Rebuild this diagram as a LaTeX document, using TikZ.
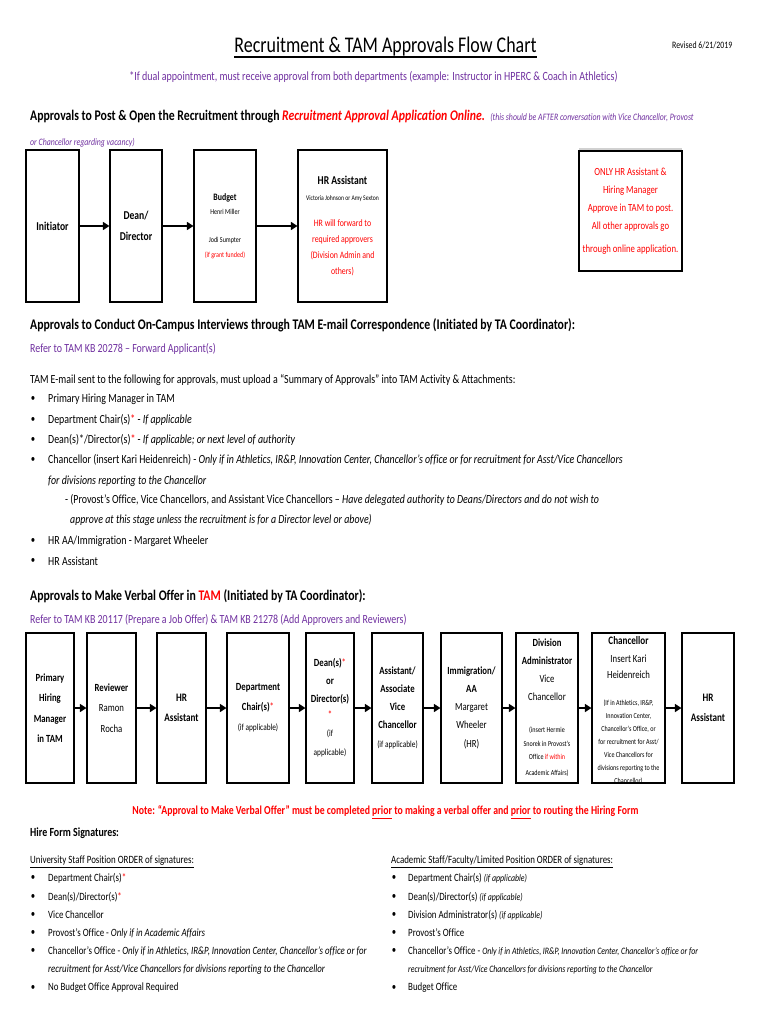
\documentclass[tikz,border=0pt]{standalone}
\usepackage{fontspec}
\setmainfont{Carlito}[FakeStretch=0.8, Ligatures=NoCommon]
\usepackage{xcolor}
\usetikzlibrary{arrows.meta, positioning}
\definecolor{ucpurple}{HTML}{7030A0}
\definecolor{ucred}{HTML}{FF0000}
\newcommand{\fs}[2]{\fontsize{#1}{#2}\selectfont}
\newcommand{\rstar}{{\color{ucred}*}}

\begin{document}
\begin{tikzpicture}[x=1pt, y=-1pt,
  txt/.style={anchor=west, inner sep=0pt},
  body/.style={txt, font=\fs{12.4}{14}},
  small/.style={txt, font=\fs{11.1}{13}},
  dot/.style={anchor=center, inner sep=0pt, font=\fs{11}{12}},
  hdr/.style={txt, font=\fs{14.7}{17}\bfseries},
  flowbox/.style={draw, line width=1.1pt, inner sep=0pt, align=center, minimum height=150pt},
  topbox/.style={flowbox, minimum height=152pt},
  flow/.style={line width=1.3pt, -{Triangle[length=6.5pt, width=8pt]}},
]
  \useasboundingbox (0,0) rectangle (770,1024);
  \fill[white] (0,0) rectangle (770,1024);

  % Title
  \node[anchor=base, inner sep=0pt, font=\fs{22.4}{26}] (title) at (385.5,53) {Recruitment \& TAM Approvals Flow Chart};
  \draw[line width=1.5pt] ([yshift=-4pt]title.base west) -- ([yshift=-4pt]title.base east);
  \node[txt, font=\fs{9.8}{11}] (revised) at (672,45) {Revised 6/21/2019};
  \node[inner sep=0pt, font=\fs{12.5}{14}, text=ucpurple] (dual) at (373.5,77) {*If dual appointment, must receive approval from both departments (example: Instructor in HPERC \& Coach in Athletics)};

  % Approvals to post
  \node[hdr] (posthdr) at (30,117) {Approvals to Post \& Open the Recruitment through {\color{ucred}\itshape Recruitment Approval Application Online.}\ \ {\fs{9.8}{11}\mdseries\itshape\color{ucpurple}(this should be AFTER conversation with Vice Chancellor, Provost}};
  \node[txt, font=\fs{9.8}{11}\itshape, text=ucpurple] (posthdrb) at (30,143) {or Chancellor regarding vacancy)};

  \node[topbox, minimum width=53pt, font=\fs{12}{21}\bfseries] (init) at (52.5,226) {Initiator};
  \node[topbox, minimum width=52pt, font=\fs{12}{21}\bfseries] (dean) at (136,226) {Dean/\\Director};
  \node[topbox, minimum width=62pt, font=\fs{7.6}{14.5}] (budget) at (225,226) {{\fs{9.8}{14}\bfseries Budget}\\Henri Miller\\[13.5pt]Jodi Sumpter\\{\color{ucred}(if grant funded)}};
  \node[topbox, minimum width=89pt, font=\fs{9.8}{16}] (hra) at (342.5,226) {{\fs{12}{16}\bfseries HR Assistant}\\{\fs{7.1}{8}Victoria Johnson or Amy Sexton}\\[10pt]{\color{ucred}HR will forward to}\\{\color{ucred}required approvers}\\{\color{ucred}(Division Admin and}\\{\color{ucred}others)}};
  \fill[black!18] ([yshift=2.5pt]579,151) rectangle (682,151);
  \node[draw, line width=1.1pt, inner sep=0pt, minimum width=103pt, minimum height=120pt, align=center, text=ucred, font=\fs{10.9}{18}] (only) at (630.5,211) {ONLY HR Assistant \&\\Hiring Manager\\Approve in TAM to post.\\All other approvals go\\[5pt]through online application.};

  \draw[flow] (init) -- (dean);
  \draw[flow] (dean) -- (budget);
  \draw[flow] (budget) -- (hra);

  % Approvals to interview
  \node[hdr] (ivhdr) at (30,325) {Approvals to Conduct On-Campus Interviews through TAM E-mail Correspondence (Initiated by TA Coordinator):};
  \node[body, text=ucpurple] (ivref) at (30,349) {Refer to TAM KB 20278 – Forward Applicant(s)};
  \node[body] (ivintro) at (30,380) {TAM E-mail sent to the following for approvals, must upload a “Summary of Approvals” into TAM Activity \& Attachments:};
  \foreach \y/\itm in {399/{Primary Hiring Manager in TAM},
      420/{Department Chair(s)\rstar{} - \textit{If applicable}},
      440/{Dean(s)*/Director(s)\rstar{} - \textit{If applicable; or next level of authority}},
      460/{Chancellor (insert Kari Heidenreich) - \textit{Only if in Athletics, IR\&P, Innovation Center, Chancellor’s office or for recruitment for Asst/Vice Chancellors}},
      541/{HR AA/Immigration - Margaret Wheeler},
      561/{HR Assistant}} {
    \node[dot] (ivdot\y) at (33,\y) {\textbullet};
    \node[body] (ivitem\y) at (48,\y) {\itm};
  }
  \node[body] (ivcont) at (48,481) {\textit{for divisions reporting to the Chancellor}};
  \node[body] (ivsub) at (65,500) {- (Provost’s Office, Vice Chancellors, and Assistant Vice Chancellors – \textit{Have delegated authority to Deans/Directors and do not wish to}};
  \node[body] (ivsubb) at (70,520) {\textit{approve at this stage unless the recruitment is for a Director level or above)}};

  % Approvals to make verbal offer
  \node[hdr] (vohdr) at (30,596) {Approvals to Make Verbal Offer in {\color{ucred}TAM} (Initiated by TA Coordinator):};
  \node[body, text=ucpurple] (voref) at (30,620) {Refer to TAM KB 20117 (Prepare a Job Offer) \& TAM KB 21278 (Add Approvers and Reviewers)};

  \node[flowbox, minimum width=48pt, font=\fs{10.9}{20.5}\bfseries] (prim) at (50,708) {Primary\\Hiring\\Manager\\in TAM};
  \node[flowbox, minimum width=49pt, font=\fs{10.9}{20.5}] (rev) at (111.5,708) {\textbf{Reviewer}\\Ramon\\Rocha};
  \node[flowbox, minimum width=49pt, font=\fs{11.4}{20}\bfseries] (hrb) at (181.5,708) {HR\\Assistant};
  \node[flowbox, minimum width=62pt, font=\fs{10.9}{20}] (dept) at (258,708) {\textbf{Department}\\\textbf{Chair(s)}\rstar\\{\fs{9.2}{10}(if applicable)}};
  \node[flowbox, minimum width=48pt, font=\fs{10.9}{18}] (deans) at (330,708) {\textbf{Dean(s)}\rstar\\\textbf{or}\\\textbf{Director(s)}\\[-2pt]\rstar\\{\fs{9.2}{10}(if}\\[1pt]{\fs{9.2}{10}applicable)}};
  \node[flowbox, minimum width=51pt, font=\fs{10.9}{18}\bfseries] (avc) at (397.5,708) {Assistant/\\Associate\\Vice\\Chancellor\\[1pt]{\fs{9.2}{10}\mdseries(if applicable)}};
  \node[flowbox, minimum width=61pt, font=\fs{10.9}{18}] (immig) at (471.5,708) {\textbf{Immigration/}\\\textbf{AA}\\Margaret\\Wheeler\\[1pt](HR)};
  \node[flowbox, minimum width=62pt, font=\fs{10.9}{18}] (divadm) at (547,708) {\textbf{Division}\\\textbf{Administrator}\\Vice\\Chancellor\\[14pt]{\fs{7.6}{8}(insert Hermie}\\[-4pt]{\fs{7.6}{8}Snorek in Provost’s}\\[-5pt]{\fs{7.6}{8}Office {\color{ucred}if within}}\\[-2pt]{\fs{7.6}{8}Academic Affairs)}};
  \node[flowbox, minimum width=73pt] (chanc) at (628.5,708) {};
  \node[inner sep=0pt, align=center, font=\fs{10.9}{16}] (chanctext) at ([yshift=-3pt]chanc.center) {{\fs{11.4}{12}\bfseries Chancellor}\\[2pt]Insert Kari\\Heidenreich\\[11pt]{\fs{7.6}{8}(If in Athletics, IR\&P,}\\[-3pt]{\fs{7.6}{8}Innovation Center,}\\[-3pt]{\fs{7.6}{8}Chancellor’s Office, or}\\[-3pt]{\fs{7.6}{8}for recruitment for Asst/}\\[-3pt]{\fs{7.6}{8}Vice Chancellors for}\\[-3pt]{\fs{7.6}{8}divisions reporting to the}\\[-3pt]{\fs{7.6}{8}Chancellor)}};
  \node[flowbox, minimum width=52pt, font=\fs{11.4}{20}\bfseries] (hrc) at (708,708) {HR\\Assistant};

  \foreach \a/\b in {prim/rev, rev/hrb, hrb/dept, dept/deans, deans/avc, avc/immig, immig/divadm, divadm/chanc, chanc/hrc}
    \draw[flow] (\a) -- (\b);

  \node[inner sep=0pt, font=\fs{12.2}{14}\bfseries, text=ucred] (note) at (385.5,812) {Note: “Approval to Make Verbal Offer” must be completed \underline{prior} to making a verbal offer and \underline{prior} to routing the Hiring Form};

  % Hire form signatures
  \node[txt, font=\fs{12.4}{14}\bfseries] (hire) at (30,833) {Hire Form Signatures:};
  \node[small] (ushdr) at (30,862) {\underline{University Staff Position ORDER of signatures:}};
  \node[small] (ashdr) at (391,862) {\underline{Academic Staff/Faculty/Limited Position ORDER of signatures:}};
  \foreach \y/\itm in {878/{Department Chair(s)\rstar},
      897/{Dean(s)/Director(s)\rstar},
      915/{Vice Chancellor},
      933/{Provost’s Office - \textit{Only if in Academic Affairs}},
      951/{Chancellor’s Office - \textit{Only if in Athletics, IR\&P, Innovation Center, Chancellor’s office or for}},
      988/{No Budget Office Approval Required}} {
    \node[dot] (usdot\y) at (33,\y) {\textbullet};
    \node[small] (usitem\y) at (48,\y) {\itm};
  }
  \node[small] (uscont) at (48,970) {\textit{recruitment for Asst/Vice Chancellors for divisions reporting to the Chancellor}};
  \foreach \y/\itm in {878/{Department Chair(s) {\fs{9.8}{11}\itshape(if applicable)}},
      897/{Dean(s)/Director(s) {\fs{9.8}{11}\itshape(if applicable)}},
      915/{Division Administrator(s) {\fs{9.8}{11}\itshape(if applicable)}},
      933/{Provost’s Office},
      951/{Chancellor’s Office - {\fs{9.8}{11}\itshape Only if in Athletics, IR\&P, Innovation Center, Chancellor’s office or for}},
      988/{Budget Office}} {
    \node[dot] (asdot\y) at (394,\y) {\textbullet};
    \node[small] (asitem\y) at (408,\y) {\itm};
  }
  \node[small, font=\fs{9.8}{11}\itshape] (ascont) at (408,970) {recruitment for Asst/Vice Chancellors for divisions reporting to the Chancellor};
\end{tikzpicture}
\end{document}
